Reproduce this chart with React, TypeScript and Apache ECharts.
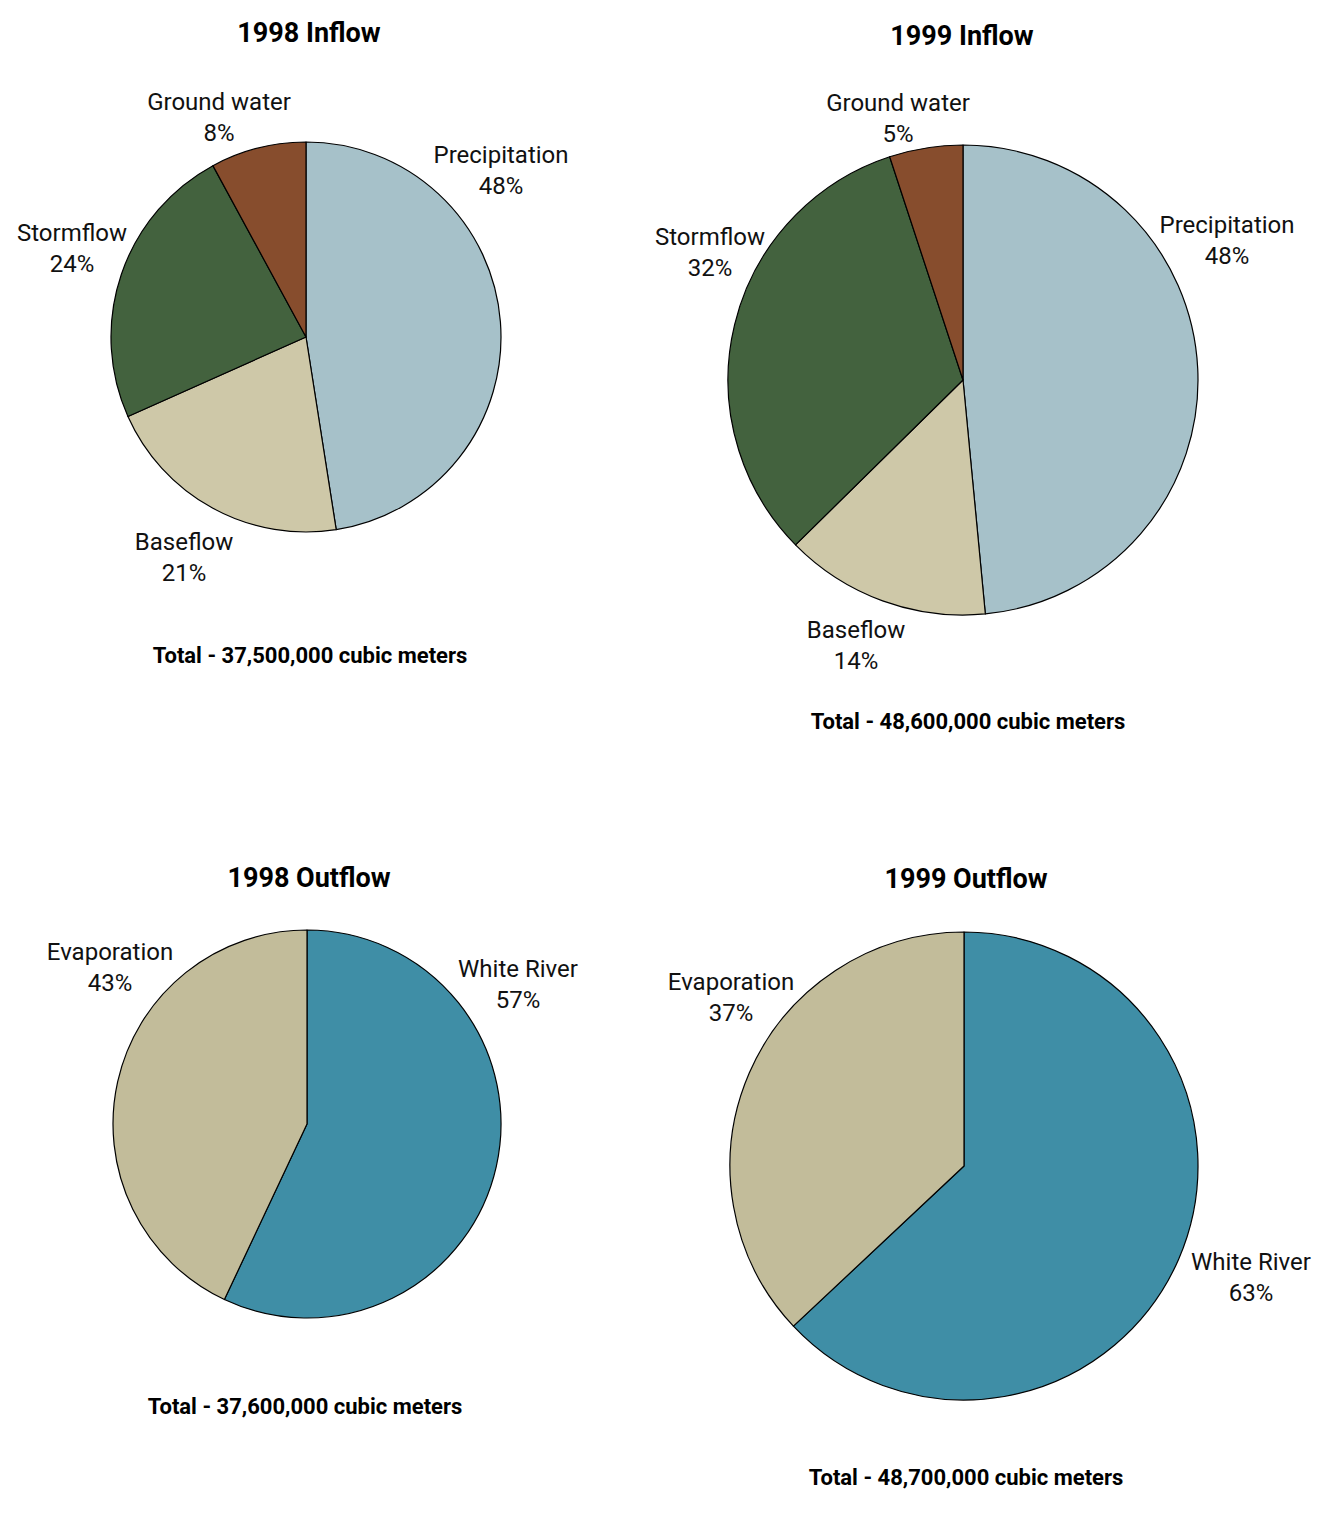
import React, { useEffect, useRef } from "react";
import * as echarts from "echarts";

// ---- data ----
const inflowCategories = ["Precipitation", "Baseflow", "Stormflow", "Ground water"];
const inflow1998 = [48, 21, 24, 8];
const inflow1999 = [48, 14, 32, 5];
const outflowCategories = ["White River", "Evaporation"];
const outflow1998 = [57, 43];
const outflow1999 = [63, 37];
const titles = ["1998 Inflow", "1999 Inflow", "1998 Outflow", "1999 Outflow"];
const totals = [
  "Total - 37,500,000 cubic meters",
  "Total - 48,600,000 cubic meters",
  "Total - 37,600,000 cubic meters",
  "Total - 48,700,000 cubic meters",
];

// ---- styles / layout ----
const FONT = "Roboto, 'DejaVu Sans', sans-serif";
const inflowColors = ["#A6C1C9", "#CEC8A8", "#43623E", "#874D2D"];
const outflowColors = ["#3F8EA6", "#C2BC9A"];

const panels = [
  { center: [306, 337], radius: 195, titlePos: [309, 33], totalPos: [310, 655],
    labelPos: [[501, 170], [184, 557], [72, 248], [219, 117]] },
  { center: [963, 380], radius: 235, titlePos: [962, 36], totalPos: [968, 721],
    labelPos: [[1227, 240], [856, 645], [710, 252], [898, 118]] },
  { center: [307, 1124], radius: 194, titlePos: [309, 878], totalPos: [305, 1406],
    labelPos: [[518, 984], [110, 967]] },
  { center: [964, 1166], radius: 234, titlePos: [966, 879], totalPos: [966, 1477],
    labelPos: [[1251, 1277], [731, 997]] },
];

const seriesData = [
  { cats: inflowCategories, vals: inflow1998, colors: inflowColors },
  { cats: inflowCategories, vals: inflow1999, colors: inflowColors },
  { cats: outflowCategories, vals: outflow1998, colors: outflowColors },
  { cats: outflowCategories, vals: outflow1999, colors: outflowColors },
];

export default function App() {
  const ref = useRef<HTMLDivElement>(null);
  useEffect(() => {
    document.body.style.margin = "0";
    if (!ref.current) return;
    const chart = echarts.init(ref.current, undefined, { renderer: "svg" });

    const series = seriesData.map((sd, i) => {
      const p = panels[i];
      return {
        type: "pie",
        center: p.center,
        radius: p.radius,
        startAngle: 90,
        clockwise: true,
        silent: true,
        avoidLabelOverlap: false,
        itemStyle: { borderColor: "#000", borderWidth: 1.2 },
        label: {
          show: true,
          position: "outside",
          formatter: (prm: any) => `${prm.name}\n${prm.value}%`,
          fontFamily: FONT,
          fontSize: 24,
          lineHeight: 31,
          color: "#111",
          align: "center",
        },
        labelLine: { show: false },
        labelLayout: (prm: any) => {
          const lp = p.labelPos[prm.dataIndex];
          return { x: lp[0], y: lp[1], align: "center", verticalAlign: "middle" };
        },
        data: sd.vals.map((v, k) => ({
          name: sd.cats[k],
          value: v,
          itemStyle: { color: sd.colors[k] },
        })),
      };
    });

    const graphic: any[] = [];
    panels.forEach((p, i) => {
      graphic.push({
        type: "text",
        x: p.titlePos[0],
        y: p.titlePos[1],
        style: {
          text: titles[i],
          font: `bold 27px ${FONT}`,
          fill: "#000",
          textAlign: "center",
          textVerticalAlign: "middle",
        },
      });
      graphic.push({
        type: "text",
        x: p.totalPos[0],
        y: p.totalPos[1],
        style: {
          text: totals[i],
          font: `bold 22px ${FONT}`,
          fill: "#000",
          textAlign: "center",
          textVerticalAlign: "middle",
        },
      });
    });

    chart.setOption({
      animation: false,
      backgroundColor: "#fff",
      series,
      graphic,
    });
    return () => chart.dispose();
  }, []);
  return <div ref={ref} style={{ width: 1336, height: 1516 }} />;
}
